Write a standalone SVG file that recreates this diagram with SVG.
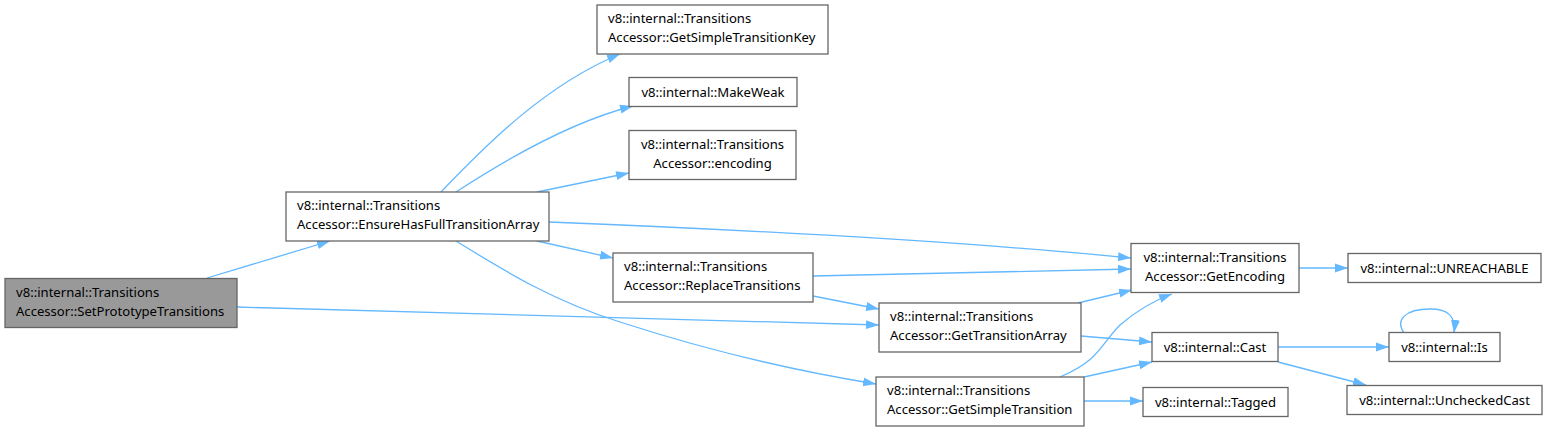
<svg xmlns="http://www.w3.org/2000/svg" width="1548" height="431" viewBox="0 0 1548 431">
<style>
.n rect{fill:#fff;stroke:#666;stroke-width:1.3}
.n.root rect{fill:#999}
text{font-family:"Noto Sans","DejaVu Sans",sans-serif;font-size:13.1px;fill:#000}
.c text{text-anchor:middle}
.e path{fill:none;stroke:#63b8ff;stroke-width:1.3}
</style>
<defs>
<marker id="a" markerUnits="userSpaceOnUse" markerWidth="14" markerHeight="11" refX="13" refY="5" orient="auto">
<path d="M0,0.5 L13,5 L0,9.5 z" fill="#63b8ff" stroke="none"/>
</marker>
</defs>
<rect width="1548" height="431" fill="#fff"/>
<g class="e">
<path marker-end="url(#a)" d="M207,278 L330,241"/>
<path marker-end="url(#a)" d="M237,307 L879,325"/>
<path marker-end="url(#a)" d="M441,192 C485,146 545,85 620,54"/>
<path marker-end="url(#a)" d="M456,192 C505,160 570,122 633,106"/>
<path marker-end="url(#a)" d="M537,192 L629,173"/>
<path marker-end="url(#a)" d="M549,222 C750,230 950,240 1131,258"/>
<path marker-end="url(#a)" d="M537,241 L613,258"/>
<path marker-end="url(#a)" d="M456,241 C500,268 550,300 620,322 C700,348 790,370 876,384"/>
<path marker-end="url(#a)" d="M813,276 L1131,269"/>
<path marker-end="url(#a)" d="M813,296 L879,309"/>
<path marker-end="url(#a)" d="M1078,303 L1132,290"/>
<path marker-end="url(#a)" d="M1081,336 L1152,342"/>
<path marker-end="url(#a)" d="M1060,377 C1100,360 1100,345 1120,325 C1135,312 1150,302 1172,294"/>
<path marker-end="url(#a)" d="M1084,377 L1152,362"/>
<path marker-end="url(#a)" d="M1084,401 L1143,401"/>
<path marker-end="url(#a)" d="M1299,268 L1348,268"/>
<path marker-end="url(#a)" d="M1278,347 L1389,347"/>
<path marker-end="url(#a)" d="M1278,362 L1366,385"/>
<path marker-end="url(#a)" d="M1404,333 C1395,320 1405,309 1430,309 C1448,309 1456,316 1454,333"/>
</g>
<g id="n1" class="n root"><rect x="5" y="278.5" width="232" height="49"/><text x="16" y="297">v8::internal::Transitions</text><text x="16" y="316">Accessor::SetPrototypeTransitions</text></g>
<g id="n2" class="n"><rect x="286" y="192" width="263" height="49"/><text x="297" y="210">v8::internal::Transitions</text><text x="297" y="229">Accessor::EnsureHasFullTransitionArray</text></g>
<g id="n3" class="n"><rect x="597" y="5" width="231" height="49"/><text x="608" y="23">v8::internal::Transitions</text><text x="608" y="42">Accessor::GetSimpleTransitionKey</text></g>
<g id="n4" class="n c"><rect x="629" y="77.5" width="168" height="29"/><text x="713" y="97">v8::internal::MakeWeak</text></g>
<g id="n5" class="n c"><rect x="629" y="130.5" width="167" height="49"/><text x="712.5" y="149">v8::internal::Transitions</text><text x="712.5" y="168">Accessor::encoding</text></g>
<g id="n6" class="n"><rect x="613" y="253" width="200" height="49"/><text x="624" y="271">v8::internal::Transitions</text><text x="624" y="290">Accessor::ReplaceTransitions</text></g>
<g id="n7" class="n c"><rect x="1131" y="243.5" width="168" height="49"/><text x="1215" y="262">v8::internal::Transitions</text><text x="1215" y="281">Accessor::GetEncoding</text></g>
<g id="n8" class="n c"><rect x="1348" y="253.5" width="193" height="29"/><text x="1444.5" y="273">v8::internal::UNREACHABLE</text></g>
<g id="n9" class="n"><rect x="879" y="303" width="202" height="49"/><text x="890" y="321">v8::internal::Transitions</text><text x="890" y="340">Accessor::GetTransitionArray</text></g>
<g id="n10" class="n c"><rect x="1152" y="332.5" width="126" height="29"/><text x="1215" y="352">v8::internal::Cast</text></g>
<g id="n11" class="n c"><rect x="1389" y="332.5" width="111" height="29"/><text x="1444.5" y="352">v8::internal::Is</text></g>
<g id="n12" class="n"><rect x="876" y="377" width="208" height="49"/><text x="887" y="395">v8::internal::Transitions</text><text x="887" y="414">Accessor::GetSimpleTransition</text></g>
<g id="n13" class="n c"><rect x="1143" y="387.5" width="145" height="29"/><text x="1215.5" y="407">v8::internal::Tagged</text></g>
<g id="n14" class="n c"><rect x="1347" y="385.5" width="195" height="29"/><text x="1444.5" y="405">v8::internal::UncheckedCast</text></g>
</svg>
